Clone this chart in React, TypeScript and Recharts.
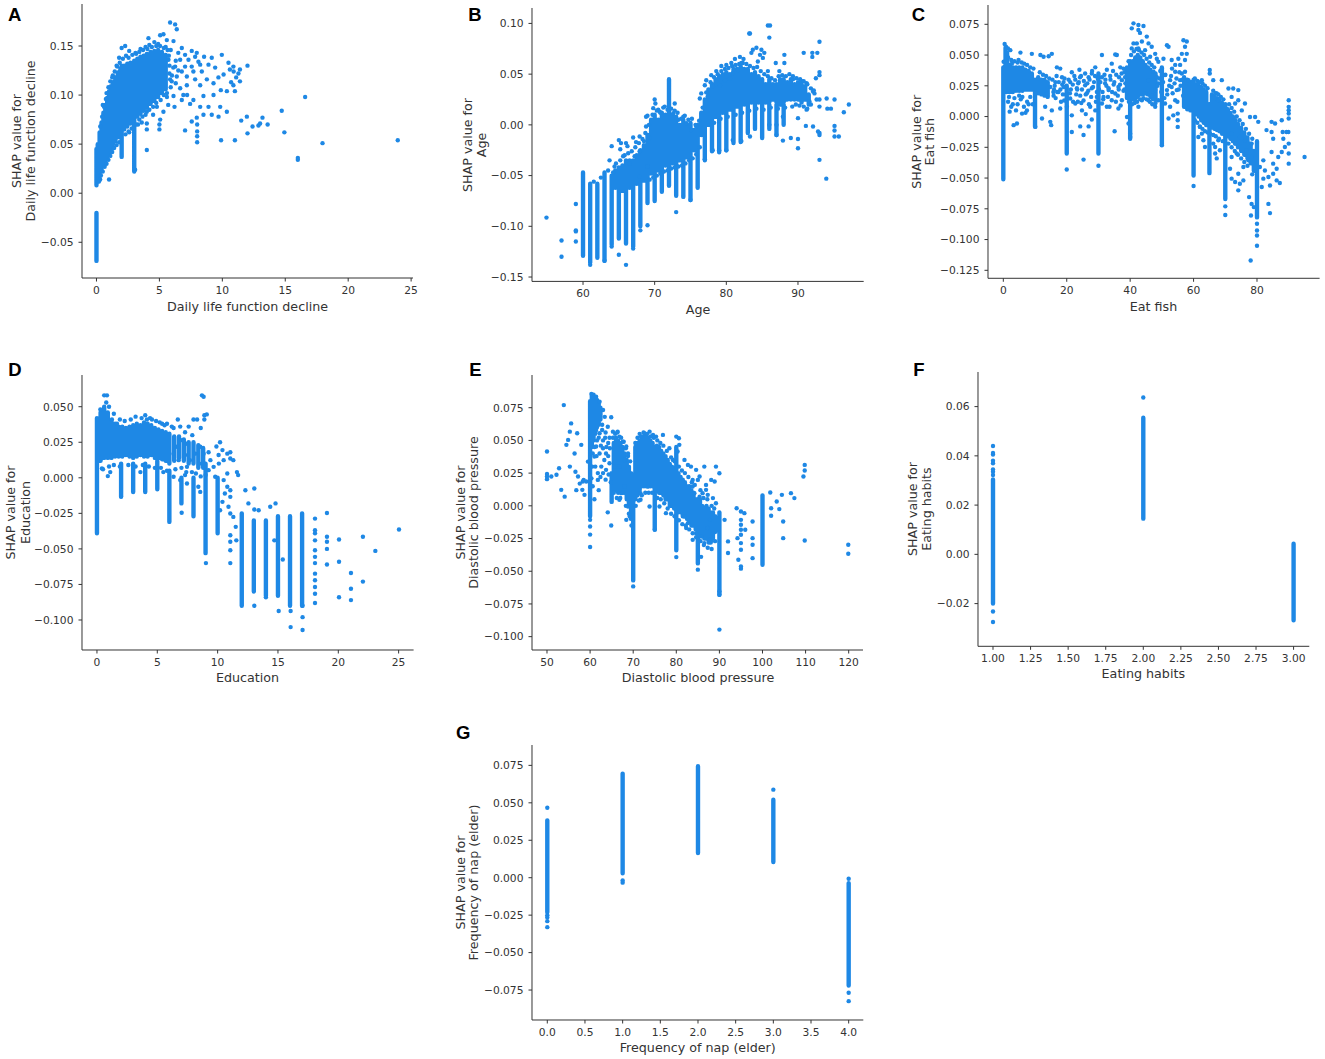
import React from 'react';
import { ComposedChart, Scatter, Line, XAxis, YAxis } from 'recharts';

const BLUE = '#1E88E5';
const AXIS = '#333333';

// ---------- Panel A: Daily life function decline ----------
const aTicksX = [0, 5, 10, 15, 20, 25];
const aTicksY = [-0.05, 0, 0.05, 0.1, 0.15];
const aBands = [
  [0, -0.069, -0.02], [0, 0.008, 0.045], [0.1, 0.012, 0.05], [0.25, 0.017, 0.062], [0.4, 0.023, 0.072],
  [0.55, 0.028, 0.082], [0.7, 0.032, 0.09], [0.85, 0.036, 0.097], [1.0, 0.04, 0.104], [1.15, 0.045, 0.109],
  [1.3, 0.049, 0.113], [1.5, 0.053, 0.118], [1.7, 0.057, 0.123], [1.9, 0.061, 0.127], [2.0, 0.037, 0.13],
  [2.2, 0.065, 0.13], [2.45, 0.068, 0.132], [2.7, 0.071, 0.133], [3.0, 0.022, 0.135], [3.25, 0.078, 0.137],
  [3.5, 0.081, 0.139], [3.75, 0.084, 0.14], [4.0, 0.087, 0.142], [4.3, 0.091, 0.144], [4.6, 0.094, 0.145],
  [4.9, 0.098, 0.146], [5.2, 0.102, 0.144], [5.5, 0.106, 0.141],
];
const aPoints = [
  [5.85, 0.174], [6.25, 0.172], [6.38, 0.167], [5.06, 0.161], [5.32, 0.162], [4.13, 0.158], [5.59, 0.156], [6.12, 0.155],
  [6.78, 0.148], [7.57, 0.145], [7.97, 0.143], [8.55, 0.139], [9.16, 0.138], [9.96, 0.141], [10.49, 0.133], [10.88, 0.129],
  [11.28, 0.122], [12.0, 0.13], [10.9, 0.124], [10.6, 0.126], [10.1, 0.121], [9.43, 0.128], [8.9, 0.131], [8.37, 0.124],
  [9.69, 0.118], [9.3, 0.112], [9.88, 0.105], [10.36, 0.104], [11.0, 0.104], [10.88, 0.11], [9.3, 0.1], [8.5, 0.099],
  [7.7, 0.095], [7.2, 0.1], [8.24, 0.088], [8.9, 0.088], [9.83, 0.088], [10.36, 0.083], [9.7, 0.078], [9.16, 0.08],
  [7.44, 0.091], [6.78, 0.095], [6.12, 0.099], [6.65, 0.107], [7.18, 0.11], [7.84, 0.116], [8.24, 0.11], [8.77, 0.116],
  [7.7, 0.124], [7.04, 0.129], [7.31, 0.136], [8.1, 0.134], [6.65, 0.136], [5.32, 0.083], [4.8, 0.088], [4.0, 0.083],
  [5.06, 0.075], [5.0, 0.07], [5.0, 0.065], [4.0, 0.071], [4.0, 0.065], [4.0, 0.044], [3.07, 0.024], [1.4, 0.053],
  [1.0, 0.014], [0.29, 0.014], [7.04, 0.064], [7.97, 0.077], [8.0, 0.07], [8.0, 0.063], [8.0, 0.058], [8.0, 0.052],
  [7.57, 0.073], [8.5, 0.08], [9.9, 0.054], [11.0, 0.054], [11.5, 0.074], [11.95, 0.078], [12.0, 0.061], [12.4, 0.068],
  [12.87, 0.069], [13.19, 0.077], [13.6, 0.07], [13.0, 0.071], [14.72, 0.084], [14.93, 0.062], [16.0, 0.036], [16.0, 0.034],
  [16.58, 0.098], [17.96, 0.051], [23.94, 0.054], [11.4, 0.126], [11.1, 0.118], [10.7, 0.113], [11.4, 0.114],
  [6.78, 0.124], [7.18, 0.119], [7.57, 0.129], [6.38, 0.119], [5.98, 0.114], [6.25, 0.129], [5.72, 0.136], [6.5, 0.143],
  [7.04, 0.141], [8.24, 0.131], [7.84, 0.139], [2.0, 0.148], [2.28, 0.15], [2.6, 0.145], [3.1, 0.143], [3.5, 0.147],
  [3.9, 0.149], [4.2, 0.151], [4.6, 0.154], [4.9, 0.152], [5.5, 0.149], [5.9, 0.146], [1.6, 0.13], [1.8, 0.138],
  [1.3, 0.12], [5.8, 0.122], [5.9, 0.108], [6.3, 0.112], [5.6, 0.098], [6.9, 0.1], [5.7, 0.09], [6.2, 0.088],
  [4.5, 0.08], [3.6, 0.072], [2.6, 0.062], [3.3, 0.07], [0.5, 0.09], [0.8, 0.102],
  [0.3, 0.068], [0.45, 0.078], [0.6, 0.088], [0.75, 0.096], [0.95, 0.108], [1.1, 0.114], [1.25, 0.118], [1.45, 0.124],
  [1.65, 0.129], [1.85, 0.133], [2.1, 0.137], [2.35, 0.14], [2.55, 0.138], [2.85, 0.141], [3.15, 0.142], [3.4, 0.144],
  [3.7, 0.146], [4.05, 0.147], [4.4, 0.149], [4.75, 0.15], [5.05, 0.15], [5.35, 0.148], [5.65, 0.146], [5.75, 0.14],
  [5.8, 0.13], [5.85, 0.116], [6.0, 0.12], [6.1, 0.128], [6.3, 0.135], [6.5, 0.125],
  [0.2, 0.012], [0.35, 0.018], [0.5, 0.022], [0.65, 0.027], [0.8, 0.03], [0.95, 0.034], [1.1, 0.038], [1.25, 0.042],
  [1.4, 0.046], [1.6, 0.049], [1.8, 0.052], [2.3, 0.06], [2.55, 0.063], [2.8, 0.066], [3.15, 0.07], [3.4, 0.075],
  [3.65, 0.078], [3.9, 0.08], [4.2, 0.085], [4.5, 0.088], [4.75, 0.092], [5.1, 0.095], [5.35, 0.1], [5.6, 0.102],
];

// ---------- Panel B: Age ----------
const bTicksX = [60, 70, 80, 90];
const bTicksY = [-0.15, -0.1, -0.05, 0, 0.05, 0.1];
const bBands = [
  [60, -0.129, -0.047], [61, -0.136, -0.058], [62, -0.131, -0.058], [63, -0.134, -0.047], [64, -0.118, -0.05],
  [65, -0.112, -0.045], [66, -0.117, -0.04], [67, -0.12, -0.038], [68, -0.1, -0.03], [69, -0.077, -0.03],
  [70, -0.075, -0.02], [71, -0.066, -0.02], [72, -0.06, -0.02], [72, 0.01, 0.045], [73, -0.07, -0.02],
  [74, -0.07, -0.02], [75, -0.074, -0.02], [76, -0.062, -0.015], [77, -0.035, 0.0], [78, -0.026, 0.01],
  [79, -0.027, 0.01], [80, -0.025, 0.015], [81, -0.018, 0.015], [82, -0.017, 0.02], [83, -0.008, 0.02],
  [84, -0.004, 0.02], [85, -0.013, 0.02], [86, -0.004, 0.02], [87, -0.01, 0.02], [88, 0.0, 0.02],
  [64.5, -0.062, -0.045], [65, -0.065, -0.042], [65.5, -0.065, -0.04], [66, -0.064, -0.035], [66.5, -0.062, -0.035],
  [67, -0.06, -0.035], [67.5, -0.058, -0.03], [68, -0.058, -0.025], [68.5, -0.055, -0.02], [69, -0.05, -0.01],
  [69.5, -0.048, 0.005], [70, -0.045, 0.01], [70.5, -0.045, 0.005], [71, -0.042, 0.012], [71.5, -0.04, 0.01],
  [72, -0.04, 0.012], [72.5, -0.038, 0.01], [73, -0.038, 0.008], [73.5, -0.035, 0.0], [74, -0.035, 0.005],
  [74.5, -0.032, 0.0], [75, -0.03, 0.002], [75.5, -0.025, -0.005], [76, -0.02, 0.0], [76.5, -0.01, 0.012],
  [77, -0.005, 0.025], [77.5, 0.0, 0.035], [78, 0.005, 0.04], [78.5, 0.008, 0.045], [79, 0.01, 0.048],
  [79.5, 0.012, 0.05], [80, 0.012, 0.052], [80.5, 0.015, 0.05], [81, 0.015, 0.055], [81.5, 0.018, 0.055],
  [82, 0.018, 0.058], [82.5, 0.02, 0.055], [83, 0.02, 0.055], [83.5, 0.022, 0.05], [84, 0.022, 0.052],
  [84.5, 0.022, 0.048], [85, 0.02, 0.045], [85.5, 0.022, 0.04], [86, 0.022, 0.045], [86.5, 0.025, 0.04],
  [87, 0.022, 0.04], [87.5, 0.02, 0.045], [88, 0.022, 0.045], [88.5, 0.025, 0.042], [89, 0.025, 0.045],
  [89.5, 0.025, 0.04], [90, 0.025, 0.042], [90.5, 0.022, 0.04], [91, 0.025, 0.038], [91.5, 0.02, 0.03],
];
const bPoints = [
  [54.9, -0.0914], [57, -0.114], [57, -0.13], [59, -0.078], [59, -0.104], [59, -0.105], [59, -0.115], [61, -0.138],
  [63, -0.134], [64, -0.12], [65, -0.128], [66, -0.138], [67, -0.122], [68, -0.104], [69, -0.099], [73, -0.086],
  [74, -0.071], [75, -0.074], [64, -0.021], [65, -0.015], [65.3, -0.018], [66, -0.018], [67, -0.0125], [67.9, -0.0115],
  [68.8, -0.0016], [69, 0.009], [70, 0.025], [70.1, 0.021], [70.5, 0.015], [72.8, 0.021], [74, 0.008], [76.3, 0.026],
  [76.5, 0.031], [77, 0.039], [77.2, 0.044], [77.9, 0.049], [78.6, 0.053], [79.3, 0.058], [80, 0.059], [80.7, 0.061],
  [81.2, 0.065], [81.9, 0.067], [82.4, 0.065], [83.2, 0.09], [83.3, 0.09], [83.5, 0.071], [83.7, 0.074], [84.2, 0.076],
  [84.9, 0.074], [84.7, 0.069], [85.3, 0.071], [85.8, 0.098], [86.1, 0.098], [86, 0.086], [85.8, 0.053], [86.9, 0.061],
  [88.1, 0.069], [88.1, 0.061], [87.4, 0.053], [89.3, 0.048], [90.8, 0.071], [92, 0.071], [92, 0.067], [92.7, 0.071],
  [93, 0.082], [93, 0.052], [93, 0.049], [92.5, 0.046], [92.1, 0.033], [92.6, 0.025], [93, 0.025], [93, 0.018],
  [94, 0.026], [95.1, 0.025], [94.1, 0.016], [94.6, 0.016], [96.4, 0.0125], [97.1, 0.02], [93, -0.008], [93, -0.01],
  [92.8, -0.0066], [93, -0.0345], [93.95, -0.053], [95.1, -0.001], [95.1, -0.0056], [95.1, -0.0115], [95.7, -0.0115],
  [91.1, -0.001], [92.1, -0.0016], [90, -0.014], [90, -0.023], [89, -0.013], [87.9, -0.0155], [87, -0.01], [86, 0.0],
  [87, 0.0], [87.9, 0.008], [90, 0.0066], [91.2, 0.015], [91.6, 0.023], [92.3, 0.031], [91.2, 0.041], [90.5, 0.043],
  [85.1, 0.066], [84.4, 0.0625], [82.1, 0.061], [81.6, 0.054], [80.9, 0.051], [80.5, 0.046], [79.8, 0.044], [79.1, 0.039],
  [78.1, 0.038], [77.4, 0.028], [80.9, -0.015], [82.1, -0.016], [80, -0.025], [79, -0.025], [78.1, -0.025], [77, -0.034],
  [83.3, -0.0115], [68.5, -0.016], [69.3, -0.013], [67.9, -0.026], [67.2, -0.031], [66.5, -0.038], [65.6, -0.031],
  [64.4, -0.041], [67.9, -0.051], [69, -0.041], [68.8, 0.008], [69.8, 0.0165], [70.7, 0.013], [71.4, 0.018],
  [72.6, 0.0115], [73.3, 0.005], [74.4, 0.0016], [75.1, -0.005], [75.8, -0.0016],
  [77.2, 0.032], [77.8, 0.042], [78.3, 0.047], [78.8, 0.05], [79.3, 0.053], [79.8, 0.055], [80.3, 0.056], [80.8, 0.058],
  [81.3, 0.059], [81.8, 0.06], [82.3, 0.061], [82.8, 0.06], [83.3, 0.058], [83.8, 0.056], [84.3, 0.057], [84.8, 0.053],
  [85.3, 0.05], [85.8, 0.048], [86.3, 0.046], [86.8, 0.044], [87.3, 0.048], [87.8, 0.049], [88.3, 0.048], [88.8, 0.05],
  [89.3, 0.045], [89.8, 0.046], [90.3, 0.045], [90.8, 0.043], [91.3, 0.04], [91.8, 0.036], [92.2, 0.034],
  [78.3, 0.002], [79.2, 0.006], [80.2, 0.008], [81.3, 0.01], [82.2, 0.012], [83.2, 0.014], [84.2, 0.016], [85.2, 0.015],
  [86.2, 0.017], [87.2, 0.016], [88.2, 0.017], [89.2, 0.018], [89.7, 0.02], [90.2, 0.019], [90.8, 0.018], [91.3, 0.016],
  [91.8, 0.02], [64.6, -0.038], [65.2, -0.035], [65.8, -0.03], [66.3, -0.028], [66.8, -0.026], [67.3, -0.022],
  [67.8, -0.018], [68.3, -0.014], [68.7, -0.008], [69.2, 0.0], [69.7, 0.01], [70.3, 0.014], [70.8, 0.012], [71.2, 0.017],
  [71.8, 0.015], [72.3, 0.016], [72.8, 0.014], [73.2, 0.012], [73.7, 0.006], [74.2, 0.009], [74.7, 0.005], [75.2, 0.006],
  [75.7, 0.0], [76.2, 0.004], [76.7, 0.017], [69.3, -0.054], [69.8, -0.052], [70.3, -0.05], [70.8, -0.048],
  [71.3, -0.046], [71.8, -0.045], [72.3, -0.043], [72.8, -0.042], [73.3, -0.041], [73.8, -0.04], [74.3, -0.038],
  [74.8, -0.035], [75.3, -0.033], [75.8, -0.029], [76.3, -0.022], [62.5, -0.052], [63.5, -0.045], [64.2, -0.047],
  [61.5, -0.056], [65.2, -0.024], [66.2, -0.021], [67.4, -0.017], [63.7, -0.035],
];

// ---------- Panel C: Eat fish ----------
const cTicksX = [0, 20, 40, 60, 80];
const cTicksY = [-0.125, -0.1, -0.075, -0.05, -0.025, 0, 0.025, 0.05, 0.075];
const cBands = [
  [0, -0.051, 0.04], [0.7, 0.03, 0.056], [1.2, 0.025, 0.052],
  [10, -0.008, 0.03], [20, -0.03, 0.025], [30, -0.03, 0.035], [40, -0.018, 0.045], [50, -0.023, 0.04],
  [60, -0.048, 0.03], [65, -0.046, 0.01], [70, -0.067, 0.01], [80, -0.082, -0.02],
  [1, 0.02, 0.045], [2, 0.02, 0.042], [3, 0.02, 0.04], [4, 0.021, 0.04], [5, 0.021, 0.04], [6, 0.021, 0.04],
  [7, 0.022, 0.038], [8, 0.022, 0.037], [9, 0.022, 0.035], [11, 0.019, 0.032], [12, 0.018, 0.03], [13, 0.017, 0.03],
  [14, 0.016, 0.028], [39, 0.015, 0.04], [40.8, 0.014, 0.045], [41.6, 0.014, 0.048], [42.4, 0.016, 0.05],
  [43.2, 0.018, 0.048], [44, 0.018, 0.045], [44.8, 0.02, 0.042], [45.6, 0.018, 0.04], [46.4, 0.016, 0.038],
  [47.2, 0.014, 0.035], [48, 0.014, 0.035], [57, 0.008, 0.032], [58, 0.006, 0.03], [59, 0.005, 0.028],
  [60.8, 0.002, 0.026], [61.6, 0.0, 0.025], [62.4, -0.003, 0.024], [63.2, -0.005, 0.022], [64, -0.007, 0.02],
  [65.8, -0.009, 0.018], [66.6, -0.01, 0.016], [67.4, -0.011, 0.015], [68.2, -0.012, 0.013], [69, -0.014, 0.011],
  [70.8, -0.016, 0.006], [71.6, -0.018, 0.003], [72.4, -0.02, 0.0], [73.2, -0.022, -0.003], [74, -0.025, -0.006],
  [75, -0.028, -0.009], [76, -0.031, -0.013], [77, -0.034, -0.017], [78, -0.038, -0.022], [79, -0.044, -0.028],
];
const cPoints = [
  [0.42, 0.059], [0.84, 0.0568], [1.47, 0.0554], [2.2, 0.054], [0.1, 0.0446],
  [15.3, 0.051], [14.3, 0.049], [12.7, 0.0486], [11.7, 0.05], [9.0, 0.051], [5.4, 0.052], [4.8, 0.046], [2.7, 0.043],
  [16.9, 0.04], [17.95, 0.039], [18.5, 0.032], [16.4, 0.028], [14.8, 0.024], [13.75, 0.019], [15.85, 0.017], [17.4, 0.02],
  [19.5, 0.024], [21.1, 0.028], [21.6, 0.036], [22.7, 0.03], [23.2, 0.023], [24.25, 0.017], [25.3, 0.013], [25.8, 0.0255],
  [26.9, 0.032], [27.9, 0.035], [29, 0.04], [27.9, 0.023], [26.35, 0.019], [27.4, 0.008], [29, 0.005], [24.8, 0.005],
  [22.7, 0.0106], [21.1, 0.0147], [21.6, 0.001], [20.05, 0.008], [17.95, 0.0065], [15.3, 0.005], [13.2, 0.008],
  [12.2, -0.0016], [14.8, -0.0043], [10.1, -0.0084], [5.9, 0.0024], [3.25, -0.007], [4.3, -0.0057], [7.45, 0.005],
  [21.6, -0.0125], [24.25, -0.008], [25.3, -0.015], [25.3, -0.035], [26.9, -0.008], [27.9, -0.0024], [31.1, 0.05],
  [35.3, 0.0505], [35.8, 0.05], [34.2, 0.043], [36.9, 0.04], [37.9, 0.039], [32.65, 0.038], [31.1, 0.032], [32.1, 0.027],
  [33.2, 0.0215], [31.6, 0.016], [31.1, 0.0106], [32.65, 0.008], [34.2, 0.0133], [35.3, 0.0188], [36.3, 0.024],
  [37.4, 0.0296], [38.4, 0.032], [37.4, 0.0133], [36.3, 0.0065], [35.1, -0.012], [39, -0.0003], [39.5, -0.0057],
  [40, -0.014], [40, -0.0166], [16, 0.022], [18.8, 0.018], [19, 0.028], [23.8, 0.028], [24.5, 0.033], [28.6, 0.028],
  [29.5, 0.016], [33.8, 0.03], [34.8, 0.026], [36.5, 0.032], [38.2, 0.022], [19.2, 0.013], [23.5, 0.012], [26, 0.002],
  [41.05, 0.0758], [42.6, 0.0745], [44.2, 0.0736], [40.5, 0.0717], [42.6, 0.0704], [43.1, 0.068], [45.25, 0.065],
  [41.05, 0.0595], [42.1, 0.0595], [43.7, 0.061], [45.8, 0.0595], [40.5, 0.0554], [42.6, 0.0554], [44.7, 0.054],
  [46.8, 0.0568], [47.9, 0.051], [46.3, 0.0486], [48.9, 0.0446], [51.6, 0.058], [52.1, 0.0568], [50.5, 0.047],
  [48.4, 0.047], [50.0, 0.039], [51, 0.0337], [53.1, 0.046], [54.2, 0.042], [55.2, 0.047], [56.3, 0.051], [56.8, 0.062],
  [57.85, 0.061], [57.3, 0.0568], [57.85, 0.051], [57.3, 0.046], [55.75, 0.042], [54.2, 0.0364], [52.6, 0.0296],
  [53.1, 0.024], [51.6, 0.0215], [54.7, 0.0215], [54.2, 0.0133], [52.6, 0.008], [53.6, 0.001], [52.1, -0.0016],
  [55, -0.0084], [55, -0.003], [55, 0.0024], [48.9, 0.027], [47.9, 0.0215], [46.8, 0.0174], [45.8, 0.0133], [44.7, 0.0188],
  [43.7, 0.0133], [42.6, 0.008], [45.8, 0.0296], [47.35, 0.0364], [48.4, 0.032], [48.9, 0.0133], [47.9, 0.008],
  [51, 0.0106], [57.3, 0.0364], [58.4, 0.0296], [55.75, 0.0296], [56.3, 0.035],
  [65.1, 0.0378], [65.1, 0.035], [62.6, 0.0296], [61.5, 0.027], [66.2, 0.0296], [68.9, 0.0296], [71, 0.0228],
  [72.5, 0.0228], [74.1, 0.0215], [72, 0.016], [74.1, 0.0133], [76.2, 0.0106], [77.8, -0.0003], [79.4, -0.0003],
  [80.4, -0.0043], [73.1, 0.0106], [75.2, 0.005], [67.3, 0.0188], [67.8, 0.0133], [62, -0.0084], [61.5, -0.0166],
  [63.1, -0.0193], [63.6, -0.0247], [62.6, -0.0139], [65.2, -0.0139], [66.2, -0.022], [66.8, -0.03], [67.8, -0.0193],
  [68.3, -0.0274], [67.3, -0.034], [66.8, -0.0247], [72, -0.0139], [73.1, -0.022], [73.6, -0.03], [72, -0.0329],
  [71.5, -0.0424], [72, -0.0505], [73.1, -0.0532], [74.6, -0.0546], [74.1, -0.06], [75.7, -0.0519], [74.1, -0.0465],
  [75.7, -0.041], [77.3, -0.0356], [76.7, -0.0274], [76.2, -0.0193], [74.6, -0.0166], [78.3, -0.022], [78.3, -0.0329],
  [78, -0.117], [80.9, -0.041], [82, -0.0356], [82.5, -0.0438], [83.6, -0.0492], [84.1, -0.056], [85.1, -0.0465],
  [86.2, -0.0519], [87.2, -0.054], [86.2, -0.0424], [85.1, -0.0383], [86.7, -0.0329], [87.8, -0.0288], [88.8, -0.0247],
  [84.6, -0.0288], [85.1, -0.018], [84.6, -0.0125], [83, -0.011], [84.6, -0.0043], [85.7, -0.0057], [87.8, -0.003],
  [88.1, -0.0125], [89.9, -0.0125], [83.6, -0.071], [84.1, -0.0785], [81.5, -0.0573], [82, -0.0505], [90, 0.0133],
  [90, 0.0079], [90, 0.0052], [90, 0.0024], [90, -0.0016], [89.3, -0.0125], [90, -0.022], [90, -0.03], [90, -0.0383],
  [88.3, -0.018], [95, -0.0329], [80, -0.0872], [80, -0.0927], [80, -0.0967], [80, -0.105], [78.1, -0.0804],
  [78.3, -0.071], [77.5, -0.0655], [79, -0.0736], [70, -0.073], [70, -0.08], [60, -0.0565], [20, -0.043], [30, -0.04],
  [50, -0.0234], [15.1, -0.007],
  [1.5, 0.012], [2.5, 0.008], [3.5, 0.015], [4.5, 0.01], [5.5, 0.014], [6.5, 0.008], [7.5, 0.012], [8.5, 0.016],
  [2, 0.004], [6, 0.016], [9.3, 0.01], [1.8, 0.016], [3, 0.01], [4, 0.005], [5, 0.017], [7, 0.003], [8, 0.01],
  [15.5, 0.03], [16.2, 0.025], [16.8, 0.033], [17.5, 0.028], [18, 0.022], [18.6, 0.026], [19.3, 0.031], [19.8, 0.018],
  [20.6, 0.03], [21.3, 0.022], [21.9, 0.026], [22.4, 0.033], [23, 0.018], [23.6, 0.027], [24.2, 0.032], [24.8, 0.022],
  [25.4, 0.029], [26, 0.018], [26.5, 0.027], [27.2, 0.03], [27.7, 0.016], [28.3, 0.024], [28.9, 0.033], [29.5, 0.02],
  [30.6, 0.028], [31.3, 0.02], [31.9, 0.034], [32.5, 0.025], [33, 0.016], [33.7, 0.033], [34.3, 0.02], [35, 0.028],
  [35.6, 0.034], [36.1, 0.017], [36.8, 0.026], [37.3, 0.035], [37.9, 0.021], [38.5, 0.027], [16.5, 0.015], [18.2, 0.012],
  [20.2, 0.015], [22, 0.012], [24.6, 0.011], [27, 0.01], [29.2, 0.012], [31.5, 0.014], [33.5, 0.008], [35.5, 0.012],
  [37, 0.009], [17, 0.02], [19, 0.024], [21, 0.019], [23.3, 0.022], [25.8, 0.035], [28, 0.037], [30.2, 0.022],
  [32.2, 0.03], [34.6, 0.037], [36.4, 0.022], [38.2, 0.036], [15.8, 0.02], [24, 0.038], [26.8, 0.021], [29.8, 0.031],
  [33.2, 0.023], [48.6, 0.025], [49.2, 0.031], [49.8, 0.02], [50.4, 0.028], [51.1, 0.034], [51.7, 0.018], [52.3, 0.025],
  [52.9, 0.033], [53.4, 0.019], [54, 0.027], [54.6, 0.031], [55.3, 0.022], [55.9, 0.025], [56.5, 0.03], [49.5, 0.037],
  [53.2, 0.039], [55.5, 0.036], [50.8, 0.015], [54.9, 0.012], [56.7, 0.017],
  [60.4, 0.031], [61.2, 0.029], [62, 0.028], [62.8, 0.027], [63.6, 0.025], [64.4, 0.023], [66.2, 0.021], [67, 0.019],
  [67.8, 0.018], [68.6, 0.016], [69.4, 0.014], [71.2, 0.01], [72, 0.007], [72.8, 0.004], [73.6, 0.0], [74.5, -0.003],
  [75.5, -0.006], [76.5, -0.01], [77.5, -0.014], [78.5, -0.018], [60.4, -0.003], [61.2, -0.005], [62, -0.008],
  [62.8, -0.01], [63.6, -0.012], [64.5, -0.013], [66.2, -0.015], [67, -0.016], [68, -0.018], [69.2, -0.02], [71, -0.022],
  [72, -0.025], [73, -0.028], [74, -0.031], [75, -0.034], [76, -0.037], [77, -0.04], [78.5, -0.047],
  [39.5, 0.045], [40.3, 0.05], [41.2, 0.053], [42, 0.055], [42.8, 0.054], [43.6, 0.052], [44.4, 0.05], [45.2, 0.047],
  [46, 0.044], [46.8, 0.042], [47.6, 0.04], [39.6, 0.012], [40.6, 0.01], [41.4, 0.011], [42.2, 0.012], [43.2, 0.014],
  [44.2, 0.015], [45.2, 0.014], [46.2, 0.012], [47, 0.01], [48, 0.011],
  [1.5, 0.048], [2.5, 0.046], [3.5, 0.045], [4.5, 0.044], [5.8, 0.044], [6.6, 0.043], [7.5, 0.042], [8.5, 0.04],
  [9.5, 0.039], [11.5, 0.036], [12.5, 0.034], [13.5, 0.033], [14.5, 0.031],
];

// ---------- Panel D: Education ----------
const dTicksX = [0, 5, 10, 15, 20, 25];
const dTicksY = [-0.1, -0.075, -0.05, -0.025, 0, 0.025, 0.05];
const dBands = [
  [0, -0.039, 0.042], [2, -0.013, 0.01], [3, -0.01, 0.01], [4, -0.01, 0.01], [5, -0.008, 0.012], [6, -0.031, 0.005],
  [7, -0.018, 0.0], [8, -0.027, 0.0], [9, -0.053, 0.01], [10, -0.039, 0.0], [12, -0.09, -0.025], [13, -0.08, -0.03],
  [14, -0.083, -0.03], [15, -0.083, -0.027], [16, -0.09, -0.027], [17, -0.09, -0.025],
  [0.3, 0.012, 0.046], [0.6, 0.014, 0.05], [0.9, 0.014, 0.046], [1.2, 0.014, 0.04], [1.5, 0.015, 0.038],
  [1.8, 0.015, 0.036], [2.1, 0.015, 0.036], [2.4, 0.016, 0.035], [2.7, 0.015, 0.036], [3.0, 0.014, 0.037],
  [3.3, 0.015, 0.038], [3.6, 0.016, 0.037], [3.9, 0.015, 0.039], [4.2, 0.015, 0.038], [4.5, 0.016, 0.037],
  [4.8, 0.014, 0.035], [5.1, 0.014, 0.034], [5.4, 0.013, 0.033], [5.7, 0.012, 0.032], [6.0, 0.01, 0.031],
  [6.4, 0.012, 0.029], [6.8, 0.014, 0.029], [7.2, 0.012, 0.027], [7.6, 0.01, 0.025], [8.0, 0.01, 0.025],
  [8.4, 0.007, 0.023], [8.8, 0.007, 0.021],
];
const dPoints = [
  [0.6, 0.058], [0.83, 0.058], [0.77, 0.053], [0.28, 0.048], [1.24, 0.041], [1.66, 0.038], [1.1, 0.004], [0.9, 0.0012],
  [0.41, 0.0066], [3.6, 0.004], [5.5, 0.004], [4.14, 0.041], [4.56, 0.041], [5.4, 0.038], [5.8, 0.038], [6.7, 0.041],
  [6.35, 0.035], [6.9, 0.036], [7.3, 0.032], [7.6, 0.036], [8.0, 0.041], [8.3, 0.041], [8.6, 0.035], [8.7, 0.058],
  [8.84, 0.057], [8.9, 0.044], [8.9, 0.041], [7.9, 0.03], [7.46, 0.024], [7.04, 0.0265], [6.63, 0.0218], [6.35, 0.017],
  [6.77, 0.0124], [7.3, 0.016], [7.7, 0.0124], [8.15, 0.017], [8.56, 0.0218], [8.84, 0.017], [9.25, 0.018], [9.4, 0.0124],
  [8.5, 0.01], [7.87, 0.004], [7.46, 0.0077], [7.3, 0.0019], [6.35, 0.0007], [6.9, -0.0016], [7.46, -0.004],
  [8.4, -0.0063], [8.56, -0.0099], [9.25, 0.0054], [9.67, 0.0077], [9.8, 0.0007], [10.2, 0.025], [10.4, 0.0195],
  [10.8, 0.017], [11.05, 0.018], [10.5, 0.0124], [10.1, 0.01], [11.05, 0.0136], [11.3, 0.0124], [11.6, 0.004],
  [11.7, 0.0019], [10.8, 0.003], [10.5, -0.0016], [10.8, -0.0063], [11.05, -0.0087], [10.6, -0.011], [11.05, -0.0134],
  [10.4, -0.0169], [10.2, -0.0228], [10.9, -0.0204], [11.05, -0.0251], [11.3, -0.0275], [11.5, -0.0345], [11.05, -0.0404],
  [11.05, -0.045], [11.05, -0.051], [11.05, -0.06], [11.55, -0.044], [12.3, -0.0087], [12.55, -0.018], [13.04, -0.0075],
  [13.04, -0.0223], [13.4, -0.0228], [14.36, -0.0204], [14.8, -0.018], [14.7, -0.044], [15.4, -0.0575], [13.04, -0.09],
  [14, -0.084], [15.06, -0.0937], [16.05, -0.105], [16.05, -0.0937], [17.04, -0.098], [17.04, -0.107], [17.04, -0.09],
  [18.07, -0.0287], [18.07, -0.0369], [18.07, -0.039], [18.07, -0.044], [18.07, -0.051], [18.07, -0.0556], [18.07, -0.06],
  [18.07, -0.0674], [18.07, -0.072], [18.07, -0.0768], [18.07, -0.0815], [18.07, -0.088], [19.06, -0.0247],
  [19.06, -0.0415], [19.06, -0.045], [19.06, -0.05], [19.06, -0.061], [20.06, -0.0434], [20.06, -0.059], [20.06, -0.084],
  [21.05, -0.067], [21.05, -0.078], [21.05, -0.086], [22.04, -0.0415], [22.04, -0.073], [23.07, -0.0514],
  [25.03, -0.0364], [7.02, -0.0246], [9.03, -0.06], [2.0, -0.0134], [9.1, 0.0446], [10.08, 0.016], [9.9, 0.022],
  [1.0, 0.05], [1.4, 0.045], [1.9, 0.041], [2.3, 0.04], [2.8, 0.041], [3.2, 0.043], [3.7, 0.042], [4.0, 0.044],
  [4.4, 0.042], [4.9, 0.04], [5.2, 0.039], [5.6, 0.037], [6.2, 0.036], [0.5, 0.006], [1.0, 0.008], [1.4, 0.009],
  [1.9, 0.008], [2.6, 0.009], [3.2, 0.008], [3.8, 0.009], [4.3, 0.008], [4.8, 0.007], [5.3, 0.007], [5.8, 0.005],
  [6.5, 0.006], [7.0, 0.007], [7.4, 0.004], [8.2, 0.003], [8.6, 0.001], [9.0, 0.002],
];

// ---------- Panel E: Diastolic blood pressure ----------
const eTicksX = [50, 60, 70, 80, 90, 100, 110, 120];
const eTicksY = [-0.1, -0.075, -0.05, -0.025, 0, 0.025, 0.05, 0.075];
const eBands = [
  [60, -0.008, 0.08], [65, 0.003, 0.025], [70, -0.057, 0.015], [75, -0.018, 0.02], [80, -0.034, 0.045],
  [85, -0.044, 0.005], [90, -0.068, -0.005], [100, -0.045, 0.008],
  [60.4, 0.045, 0.084], [60.8, 0.05, 0.085], [61.2, 0.055, 0.083], [61.6, 0.06, 0.081], [62, 0.062, 0.078],
  [62.4, 0.066, 0.075], [65.5, 0.015, 0.048], [66, 0.012, 0.052], [66.5, 0.01, 0.05], [67, 0.012, 0.048],
  [67.5, 0.015, 0.045], [68, 0.01, 0.04], [68.5, 0.005, 0.035], [69, 0.0, 0.03], [69.5, -0.01, 0.025],
  [70.5, 0.005, 0.045], [71, 0.008, 0.048], [71.5, 0.012, 0.05], [72, 0.015, 0.052], [72.5, 0.015, 0.053],
  [73, 0.015, 0.054], [73.5, 0.015, 0.052], [74, 0.015, 0.05], [74.5, 0.015, 0.048], [75.5, 0.012, 0.046],
  [76, 0.01, 0.045], [76.5, 0.01, 0.042], [77, 0.008, 0.04], [77.5, 0.005, 0.038], [78, 0.005, 0.035],
  [78.5, 0.0, 0.032], [79, 0.0, 0.03], [79.5, -0.002, 0.028], [80.5, -0.005, 0.025], [81, -0.005, 0.022],
  [81.5, -0.008, 0.02], [82, -0.008, 0.018], [82.5, -0.01, 0.015], [83, -0.012, 0.015], [83.5, -0.015, 0.012],
  [84, -0.015, 0.01], [84.5, -0.018, 0.005], [85.5, -0.02, 0.005], [86, -0.022, 0.0], [86.5, -0.025, -0.002],
  [87, -0.025, 0.0], [87.5, -0.028, -0.002], [88, -0.028, -0.005], [88.5, -0.025, -0.005], [89, -0.02, -0.008],
];
const ePoints = [
  [50, 0.0415], [50, 0.0244], [50, 0.0224], [50, 0.0204], [51, 0.0224], [52.2, 0.0237], [52.8, 0.0287], [53.3, 0.0122],
  [54.1, 0.007], [53.9, 0.077], [54.5, 0.0466], [54.9, 0.0504], [55.3, 0.0567], [55.6, 0.063], [55.3, 0.03], [56.4, 0.04],
  [56.6, 0.026], [57.2, 0.0224], [57, 0.0555], [56.8, 0.012], [57.6, 0.017], [57.95, 0.0466], [58.2, 0.0122],
  [58.5, 0.0198], [58.7, 0.0084], [59.1, 0.0186], [59.5, 0.0338], [58.3, 0.0186],
  [60.3, 0.0855], [61.4, 0.0834], [62.2, 0.0796], [63, 0.0733], [63.4, 0.068], [64.9, 0.0677], [64.1, 0.0605],
  [65.3, 0.0567], [66.4, 0.0567], [66.8, 0.0529], [67.6, 0.049], [67.2, 0.0453], [68.4, 0.0453], [68.8, 0.04],
  [68, 0.035], [66.8, 0.03], [65.7, 0.03], [64.5, 0.0326], [63.7, 0.0275], [62.6, 0.03], [61.8, 0.0198], [61.4, 0.0453],
  [63, 0.044], [63.7, 0.04], [62.2, 0.04], [61, 0.0377], [60.3, 0.021], [62.2, 0.0555], [62.8, 0.062], [63.5, 0.052],
  [64.2, 0.048], [61.6, 0.05], [71.5, 0.055], [72.6, 0.0555], [73.8, 0.0567], [74.6, 0.0542], [75.3, 0.0529],
  [76.9, 0.0542], [78.4, 0.044], [80, 0.0529], [80.6, 0.0516], [80.7, 0.0466], [80.3, 0.0415], [79.2, 0.0351],
  [81.9, 0.0351], [82.7, 0.0313], [83.4, 0.03], [84.6, 0.0275], [86.5, 0.03], [89.2, 0.03], [90, 0.0249], [88.1, 0.0198],
  [88.9, 0.0186], [86.9, 0.016], [86.9, 0.0122], [86.1, 0.0097], [87.3, 0.0084], [88.5, 0.0059], [89.2, 0.002],
  [85.4, 0.007], [84.2, 0.0097], [83.8, 0.0148], [85, 0.0198], [85.4, 0.0224], [83.8, 0.0198], [87.8, -0.0107],
  [87.3, -0.017], [88.5, -0.0209], [87.7, -0.026], [86.5, -0.0285], [85.75, -0.0234], [84.6, -0.0209], [83.8, -0.026],
  [82.7, -0.0132], [82.3, -0.017], [81.9, -0.0081], [85.75, -0.039], [85, -0.0488], [80, -0.0392], [70, -0.0616],
  [75, -0.0183], [71.7, 0.0046], [71.7, 0.0097], [73.8, -0.0005], [76.1, -0.0005], [77.6, -0.0056], [73.4, 0.0148],
  [66.8, 0.0046], [67.2, 0.0097], [68, 0.0148], [68.8, -0.0005], [69.2, -0.0081], [68.4, -0.0107], [64.1, -0.005],
  [64.9, -0.015], [60, -0.022], [60, -0.0315], [60, -0.0158], [60, -0.0107], [90, -0.0946], [90, -0.0654], [90, -0.068],
  [91.2, -0.0107], [92, -0.0272], [92, -0.0361], [94, -0.0018], [94.2, -0.0247], [95, -0.0043], [95, -0.0107],
  [95, -0.0145], [95, -0.0183], [95, -0.0221], [95, -0.0285], [95, -0.0336], [95, -0.0463], [95, -0.048], [94.4, -0.0412],
  [95.8, -0.0056], [96, -0.0183], [97.7, -0.012], [97.7, -0.0247], [97.7, -0.0298], [97.7, -0.04], [101.8, 0.0102],
  [102, -0.0018], [102, -0.0076], [103.3, 0.0033], [103.9, -0.0025], [104.5, 0.0084], [104.8, -0.012], [104.8, -0.0247],
  [106.6, 0.0097], [107.4, 0.0059], [109.5, 0.0224], [109.8, 0.027], [109.8, 0.0313], [109.8, -0.0265], [119.9, -0.0298],
  [119.9, -0.0366],
  [61, 0.045], [61.5, 0.038], [62, 0.052], [62.5, 0.046], [63, 0.05], [63.3, 0.035], [63.8, 0.045], [64.2, 0.038],
  [64.6, 0.044], [61.2, 0.03], [61.8, 0.025], [62.4, 0.022], [63, 0.025], [63.6, 0.02], [64.3, 0.024], [64.8, 0.018],
  [60.6, 0.04], [61.4, 0.058], [60.5, 0.03], [62.8, 0.058], [63.6, 0.056], [64.5, 0.052], [60.6, 0.015], [61, 0.005],
  [62, 0.012], [70.5, 0.048], [71, 0.052], [71.8, 0.053], [72.4, 0.056], [73.2, 0.055], [74, 0.053], [74.8, 0.052],
  [75.6, 0.05], [76.3, 0.048], [77, 0.046], [77.8, 0.042], [78.8, 0.037], [79.6, 0.034], [80.6, 0.03], [81.3, 0.027],
  [82, 0.025], [82.8, 0.022], [83.6, 0.018], [84.3, 0.016], [85.6, 0.012], [86.3, 0.006], [87.2, 0.005], [88.2, 0.0],
  [88.8, -0.002], [70.6, 0.0], [71.3, 0.004], [72, 0.008], [72.8, 0.01], [73.6, 0.01], [74.4, 0.01], [75.6, 0.006],
  [76.4, 0.005], [77.2, 0.002], [78, -0.002], [78.8, -0.006], [79.6, -0.008], [80.6, -0.011], [81.4, -0.014],
  [82.2, -0.015], [83, -0.018], [83.8, -0.021], [84.6, -0.024], [85.6, -0.027], [86.4, -0.03], [87.3, -0.032],
  [88.2, -0.033], [89, -0.027], [65.3, 0.052], [65.8, 0.055], [66.3, 0.056], [67.2, 0.052], [67.8, 0.049], [68.3, 0.044],
  [68.8, 0.038], [69.3, 0.034], [65.5, 0.01], [66.2, 0.006], [67, 0.006], [67.6, 0.01], [68.3, 0.0], [69, -0.006],
  [69.6, -0.015],
];

// ---------- Panel F: Eating habits ----------
const fTicksX = [1, 1.25, 1.5, 1.75, 2, 2.25, 2.5, 2.75, 3];
const fTicksY = [-0.02, 0, 0.02, 0.04, 0.06];
const fBands = [[1, -0.02, 0.0304], [2, 0.0145, 0.0555], [3, -0.0268, 0.0043]];
const fPoints = [
  [1, 0.0322], [1, 0.0335], [1, 0.0345], [1, 0.037], [1, 0.038], [1, 0.0405], [1, 0.0412], [1, 0.044],
  [1, -0.0232], [1, -0.0275], [2, 0.0637],
];

// ---------- Panel G: Frequency of nap (elder) ----------
const gTicksX = [0, 0.5, 1, 1.5, 2, 2.5, 3, 3.5, 4];
const gTicksY = [-0.075, -0.05, -0.025, 0, 0.025, 0.05, 0.075];
const gBands = [[0, -0.023, 0.0383], [1, 0.003, 0.0695], [2, 0.0165, 0.0744], [3, 0.0105, 0.052], [4, -0.072, -0.0036]];
const gPoints = [
  [0, 0.0467], [0, -0.025], [0, -0.0265], [0, -0.029], [0, -0.033], [1, -0.0018], [1, -0.0033], [3, 0.0588],
  [4, -0.0007], [4, -0.0768], [4, -0.0824],
];

// ---------- rendering ----------
const LEFT = 60, TOP = 10, RIGHT = 10, BOTTOM = 30;
const TICK_FONT = { fill: AXIS, fontSize: 10.7, fontFamily: 'DejaVu Sans' };

function fmt(v: number, d: number) {
  return v.toFixed(d).replace('-', '\u2212');
}

function bandLine(bands: number[][]) {
  const out: { x: number; y: number | null }[] = [];
  bands.forEach(([x, lo, hi]) => {
    out.push({ x, y: lo });
    out.push({ x, y: hi });
    out.push({ x, y: null });
  });
  return out;
}

const Dot = (props: any) => {
  if (props.cx == null || props.cy == null) return null;
  return <circle cx={props.cx} cy={props.cy} r={2.2} fill={BLUE} />;
};

type PanelProps = {
  box: number[];
  xDomain: number[];
  yDomain: number[];
  xTicks: number[];
  yTicks: number[];
  xDec: number;
  yDec: number;
  bands: number[][];
  points: number[][];
};

function Panel(p: PanelProps) {
  const [x0, y0, x1, y1] = p.box;
  const w = x1 - x0 + LEFT + RIGHT;
  const h = y1 - y0 + TOP + BOTTOM;
  const pts = p.points.map(([x, y]) => ({ x, y }));
  return (
    <div style={{ position: 'absolute', left: x0 - LEFT, top: y0 - TOP, width: w, height: h }}>
      <ComposedChart width={w} height={h} margin={{ top: TOP, right: RIGHT, bottom: 0, left: 0 }}>
        <XAxis
          type="number" dataKey="x" domain={p.xDomain} allowDataOverflow ticks={p.xTicks} interval={0}
          tickFormatter={(v: number) => fmt(v, p.xDec)} height={BOTTOM}
          axisLine={{ stroke: AXIS, strokeWidth: 1 }} tickLine={{ stroke: AXIS }} tickSize={3.5} tickMargin={5}
          tick={TICK_FONT}
        />
        <YAxis
          type="number" dataKey="y" domain={p.yDomain} allowDataOverflow ticks={p.yTicks} interval={0}
          tickFormatter={(v: number) => fmt(v, p.yDec)} width={LEFT}
          axisLine={{ stroke: AXIS, strokeWidth: 1 }} tickLine={{ stroke: AXIS }} tickSize={3.5} tickMargin={5}
          tick={TICK_FONT}
        />
        <Line
          data={bandLine(p.bands)} dataKey="y" type="linear" stroke={BLUE} strokeWidth={4.4}
          strokeLinecap="round" dot={false} activeDot={false} connectNulls={false} isAnimationActive={false}
        />
        <Scatter data={pts} dataKey="y" fill={BLUE} shape={Dot} isAnimationActive={false} />
      </ComposedChart>
    </div>
  );
}

const LABEL_FONT = { fontFamily: 'DejaVu Sans', fontSize: 12.7, fill: AXIS };
const LETTER_FONT = { fontFamily: 'Liberation Sans, Arial, sans-serif', fontSize: 18.5, fontWeight: 700, fill: '#000' };

function YLabel({ x1, x2, cy, line2 }: { x1: number; x2: number; cy: number; line2: string }) {
  return (
    <g>
      <text x={x1} y={cy} transform={`rotate(-90 ${x1} ${cy})`} textAnchor="middle" dominantBaseline="central" {...LABEL_FONT}>SHAP value for</text>
      <text x={x2} y={cy} transform={`rotate(-90 ${x2} ${cy})`} textAnchor="middle" dominantBaseline="central" {...LABEL_FONT}>{line2}</text>
    </g>
  );
}

export default function App() {
  return (
    <div style={{ position: 'absolute', left: 0, top: 0, width: 1325, height: 1059, background: '#fff', overflow: 'hidden' }}>
      <Panel box={[82, 4, 413, 278]} xDomain={[-1.15, 25.15]} yDomain={[-0.0864, 0.1928]} xTicks={aTicksX} yTicks={aTicksY} xDec={0} yDec={2} bands={aBands} points={aPoints} />
      <Panel box={[532.3, 8.3, 864, 281.7]} xDomain={[52.88, 99.17]} yDomain={[-0.1543, 0.1152]} xTicks={bTicksX} yTicks={bTicksY} xDec={0} yDec={2} bands={bBands} points={bPoints} />
      <Panel box={[987.7, 5, 1319.3, 278.3]} xDomain={[-4.83, 99.74]} yDomain={[-0.1315, 0.0907]} xTicks={cTicksX} yTicks={cTicksY} xDec={0} yDec={3} bands={cBands} points={cPoints} />
      <Panel box={[81.7, 375, 413.3, 650]} xDomain={[-1.24, 26.24]} yDomain={[-0.1211, 0.0723]} xTicks={dTicksX} yTicks={dTicksY} xDec={0} yDec={3} bands={dBands} points={dPoints} />
      <Panel box={[532.3, 375, 863.3, 650]} xDomain={[46.52, 123.32]} yDomain={[-0.1102, 0.1]} xTicks={eTicksX} yTicks={eTicksY} xDec={0} yDec={3} bands={eBands} points={ePoints} />
      <Panel box={[977.7, 371.7, 1309, 646]} xDomain={[0.9002, 3.1045]} yDomain={[-0.03734, 0.07405]} xTicks={fTicksX} yTicks={fTicksY} xDec={2} yDec={2} bands={fBands} points={fPoints} />
      <Panel box={[532, 745, 863.3, 1020]} xDomain={[-0.203, 4.194]} yDomain={[-0.095, 0.0886]} xTicks={gTicksX} yTicks={gTicksY} xDec={1} yDec={3} bands={gBands} points={gPoints} />
      <svg width={1325} height={1059} style={{ position: 'absolute', left: 0, top: 0, pointerEvents: 'none' }}>
        <text x={8} y={21} {...LETTER_FONT}>A</text>
        <text x={468.3} y={20.7} {...LETTER_FONT}>B</text>
        <text x={911.7} y={20.7} {...LETTER_FONT}>C</text>
        <text x={8.3} y={376} {...LETTER_FONT}>D</text>
        <text x={469.3} y={376} {...LETTER_FONT}>E</text>
        <text x={913.3} y={376} {...LETTER_FONT}>F</text>
        <text x={456} y={738.5} {...LETTER_FONT}>G</text>

        <text x={247.5} y={310.5} textAnchor="middle" {...LABEL_FONT}>Daily life function decline</text>
        <text x={698} y={313.5} textAnchor="middle" {...LABEL_FONT}>Age</text>
        <text x={1153.5} y={310.5} textAnchor="middle" {...LABEL_FONT}>Eat fish</text>
        <text x={247.5} y={681.5} textAnchor="middle" {...LABEL_FONT}>Education</text>
        <text x={698} y={681.5} textAnchor="middle" {...LABEL_FONT}>Diastolic blood pressure</text>
        <text x={1143.3} y={677.5} textAnchor="middle" {...LABEL_FONT}>Eating habits</text>
        <text x={697.7} y={1051.5} textAnchor="middle" {...LABEL_FONT}>Frequency of nap (elder)</text>

        <YLabel x1={16.3} x2={30} cy={141} line2="Daily life function decline" />
        <YLabel x1={467} x2={481.7} cy={145} line2="Age" />
        <YLabel x1={916.3} x2={930} cy={141.7} line2="Eat fish" />
        <YLabel x1={10.3} x2={25} cy={512.5} line2="Education" />
        <YLabel x1={460.3} x2={473.7} cy={512.5} line2="Diastolic blood pressure" />
        <YLabel x1={912.7} x2={926.3} cy={509} line2="Eating habits" />
        <YLabel x1={460.3} x2={473.7} cy={882.5} line2="Frequency of nap (elder)" />
      </svg>
    </div>
  );
}
